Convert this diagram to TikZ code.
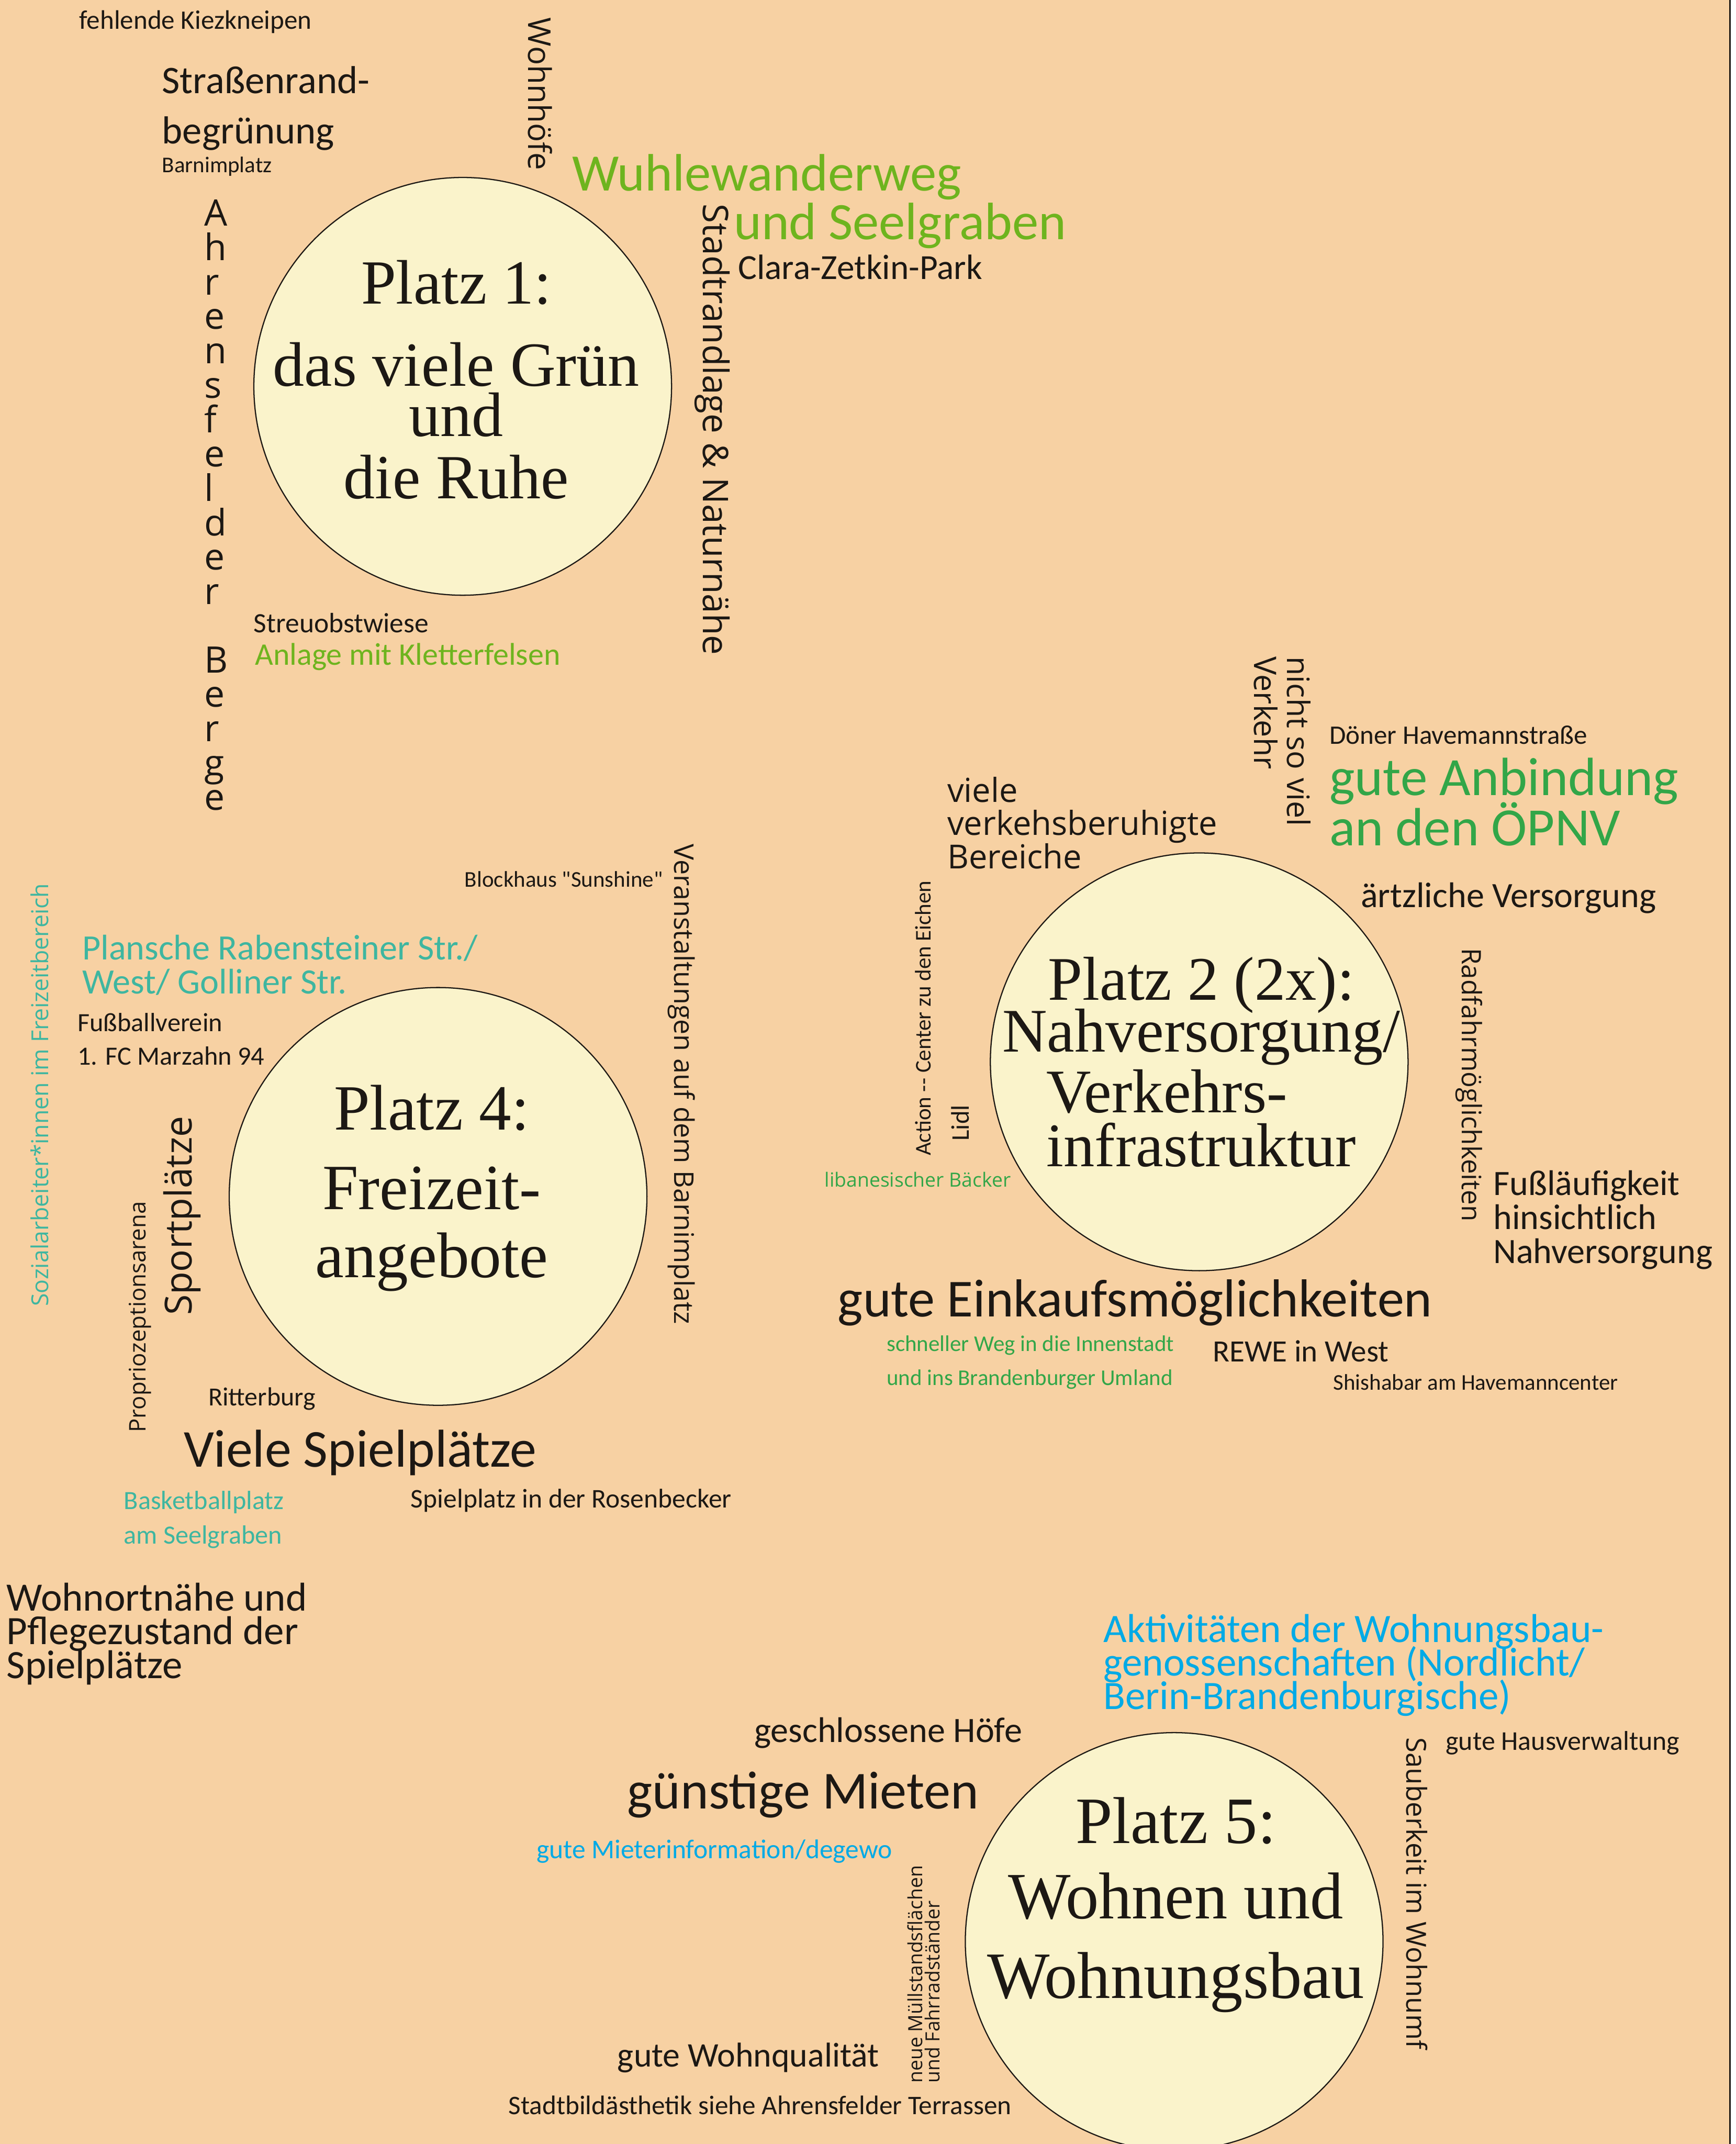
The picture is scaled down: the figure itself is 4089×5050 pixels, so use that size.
\documentclass[tikz,border=0pt]{standalone}
\usepackage{fontspec}
\setmainfont{Liberation Serif}
\newfontfamily\calfont{Carlito}
\newfontfamily\opfont{Open Sans}
\newcommand{\fs}[2]{\fontsize{#1pt}{#2pt}\selectfont\lineskiplimit=-100pt}
\definecolor{paper}{RGB}{247,209,163}
\definecolor{cream}{RGB}{250,243,203}
\definecolor{ink}{RGB}{28,24,20}
\definecolor{gruen}{RGB}{110,180,30}
\definecolor{gruenb}{RGB}{50,166,72}
\definecolor{petrol}{RGB}{62,182,160}
\definecolor{blau}{RGB}{0,170,230}

\begin{document}
\begin{tikzpicture}[x=0.25pt, y=-0.25pt]

\tikzstyle{platz}=[circle, draw=ink, line width=0.7pt, fill=cream, minimum size=246pt, inner sep=0pt]
\tikzstyle{titel}=[inner sep=0pt, align=center, text=ink]
\tikzstyle{txt}=[inner sep=0pt, anchor=base west, text=ink]
\tikzstyle{block}=[inner sep=0pt, anchor=north west, align=left, text=ink]

\useasboundingbox (0,0) rectangle (4089,5050);
\fill[white] (0,0) rectangle (4089,5050);
\fill[paper] (0,0) rectangle (4075,5050);
\draw[ink, line width=0.8pt] (4075.5,0) -- (4075.5,5050);

\node (platz1) [platz] at (1090,910) {};
\node (titel1) [titel, font=\fs{37}{29.5}] at (1075,894) {Platz 1:\\[19pt]das viele Grün\\und\\[7.25pt]die Ruhe};

\node (platz2) [platz] at (2825,2501) {};
\node (titel2) [titel, font=\fs{36.5}{30.5}] at (2830,2501) {Platz 2 (2x):\\Nahversorgung/\\[5.25pt]\rlap{Verkehrs-}\phantom{infrastruktur}\\[1.25pt]infrastruktur};

\node (platz4) [platz] at (1032,2818) {};
\node (titel4) [titel, font=\fs{38}{40.25}] at (1017,2799) {Platz 4:\\[6.5pt]Freizeit-\\angebote};

\node (platz5) [platz] at (2766,4573) {};
\node (titel5) [titel, font=\fs{39}{44.25}] at (2770,4487) {Platz 5:\\Wohnen und\\[2.75pt]Wohnungsbau};

\node (kiez) [txt, font=\calfont\fs{15.75}{19}] at (186,69) {fehlende Kiezkneipen};
\node (strasse) [block, font=\calfont\fs{23}{29.5}] at (381,156) {Straßenrand-\\begrünung};
\node (barnim) [txt, font=\calfont\fs{13.25}{16}] at (381,406) {Barnimplatz};
\node (wohnhoefe) [txt, rotate=-90, font=\opfont\fs{18.5}{22}] at (1245,41) {Wohnhöfe};
\node (wuhle) [txt, text=gruen, font=\calfont\fs{31}{37}] at (1347,449) {Wuhlewanderweg};
\node (seelgraben) [txt, text=gruen, font=\calfont\fs{31}{37}] at (1728,564) {und Seelgraben};
\node (clara) [txt, font=\calfont\fs{20.75}{25}] at (1738,658) {Clara-Zetkin-Park};
\node (stadtrand) [txt, rotate=-90, font=\opfont\fs{20.75}{25}] at (1657,480) {Stadtrandlage \& Naturnähe};
\node (ahrens) [block, font=\opfont\fs{21.5}{20.25}] at (481,470) {A\\h\\r\\e\\n\\s\\f\\e\\l\\d\\e\\r\\[20pt]B\\e\\r\\g\\e};
\node (streuobst) [txt, font=\calfont\fs{16.5}{20}] at (597,1490) {Streuobstwiese};
\node (anlage) [txt, text=gruen, font=\calfont\fs{18.5}{22}] at (600,1567) {Anlage mit Kletterfelsen};

\node (verkehr) [block, rotate=-90, font=\opfont\fs{18.25}{19.25}] at (3088,1546) {nicht so viel\\Verkehr};
\node (doener) [txt, font=\calfont\fs{15.75}{19}] at (3131,1753) {Döner Havemannstraße};
\node (oepnv) [block, text=gruenb, font=\calfont\fs{31.75}{29.5}] at (3131,1785) {gute Anbindung\\an den ÖPNV};
\node (beruhigt) [block, font=\opfont\fs{19.5}{19.6}] at (2231,1829) {viele\\verkehsberuhigte\\Bereiche};
\node (arzt) [txt, font=\calfont\fs{21}{25}] at (3205,2137) {ärtzliche Versorgung};
\node (radfahr) [txt, rotate=-90, font=\opfont\fs{15.75}{19}] at (3444,2232) {Radfahrmöglichkeiten};
\node (fuss) [block, font=\calfont\fs{21}{20.1}] at (3517,2756) {Fußläufigkeit\\hinsichtlich\\Nahversorgung};
\node (action) [txt, rotate=90, font=\calfont\fs{13.25}{16}] at (2193,2723) {Action -{}- Center zu den Eichen};
\node (lidl) [txt, rotate=90, font=\calfont\fs{15}{18}] at (2283,2688) {Lidl};
\node (baecker) [txt, text=gruenb, font=\opfont\fs{11.5}{14}] at (1942,2795) {libanesischer Bäcker};
\node (einkauf) [txt, font=\calfont\fs{31.5}{38}] at (1973,3101) {gute Einkaufsmöglichkeiten};
\node (innenstadt) [block, text=gruenb, font=\calfont\fs{13.25}{20}] at (2088,3145) {schneller Weg in die Innenstadt\\und ins Brandenburger Umland};
\node (rewe) [txt, font=\calfont\fs{18.25}{22}] at (2856,3207) {REWE in West};
\node (shisha) [txt, font=\calfont\fs{13.25}{16}] at (3140,3274) {Shishabar am Havemanncenter};

\node (blockhaus) [txt, font=\calfont\fs{13.25}{16}] at (1094,2089) {Blockhaus "Sunshine"};
\node (veranst) [txt, rotate=-90, font=\opfont\fs{16}{19}] at (1589,1987) {Veranstaltungen auf dem Barnimplatz};
\node (sozial) [txt, rotate=90, text=petrol, font=\opfont\fs{13.75}{16}] at (114,3078) {Sozialarbeiter*innen im Freizeitbereich};
\node (plansche) [block, text=petrol, font=\calfont\fs{21}{20}] at (193,2202) {Plansche Rabensteiner Str./\\West/ Golliner Str.};
\node (fussball) [block, font=\calfont\fs{15.5}{19.75}] at (182,2385) {Fußballverein\\1. FC Marzahn 94};
\node (sport) [txt, rotate=90, font=\opfont\fs{22}{26}] at (452,3099) {Sportplätze};
\node (proprio) [txt, rotate=90, font=\opfont\fs{13.5}{16}] at (343,3375) {Propriozeptionsarena};
\node (ritter) [txt, font=\calfont\fs{15.4}{18}] at (490,3311) {Ritterburg};
\node (spielpl) [txt, font=\calfont\fs{31.4}{38}] at (432,3455) {Viele Spielplätze};
\node (basket) [block, text=petrol, font=\calfont\fs{15.5}{20.25}] at (291,3511) {Basketballplatz\\am Seelgraben};
\node (rosen) [txt, font=\calfont\fs{15.9}{19}] at (967,3551) {Spielplatz in der Rosenbecker};
\node (wohnort) [block, font=\calfont\fs{23.7}{20}] at (15,3727) {Wohnortnähe und\\Pflegezustand der\\Spielplätze};

\node (aktiv) [block, text=blau, font=\calfont\fs{23.75}{19.6}] at (2599,3802) {Aktivitäten der Wohnungsbau-\\genossenschaften (Nordlicht/\\Berin-Brandenburgische)};
\node (hoefe) [txt, font=\calfont\fs{21}{25}] at (1776,4104) {geschlossene Höfe};
\node (mieten) [txt, font=\calfont\fs{31.5}{38}] at (1477,4260) {günstige Mieten};
\node (mieterinfo) [txt, text=blau, font=\calfont\fs{15.9}{19}] at (1263,4377) {gute Mieterinformation/degewo};
\node (muell) [block, rotate=90, font=\opfont\fs{11.5}{10.25}] at (2137,4907) {neue Müllstandsflächen\\und Fahrradständer};
\node (wohnq) [txt, font=\calfont\fs{20.3}{24}] at (1454,4868) {gute Wohnqualität};
\node (stadtbild) [txt, font=\calfont\fs{15.8}{19}] at (1197,4980) {Stadtbildästhetik siehe Ahrensfelder Terrassen};
\node (hausverw) [txt, font=\calfont\fs{16}{19}] at (3405,4122) {gute Hausverwaltung};
\node (sauber) [txt, rotate=-90, font=\opfont\fs{16.25}{19}] at (3314,4092) {Sauberkeit im Wohnumf};

\end{tikzpicture}
\end{document}
